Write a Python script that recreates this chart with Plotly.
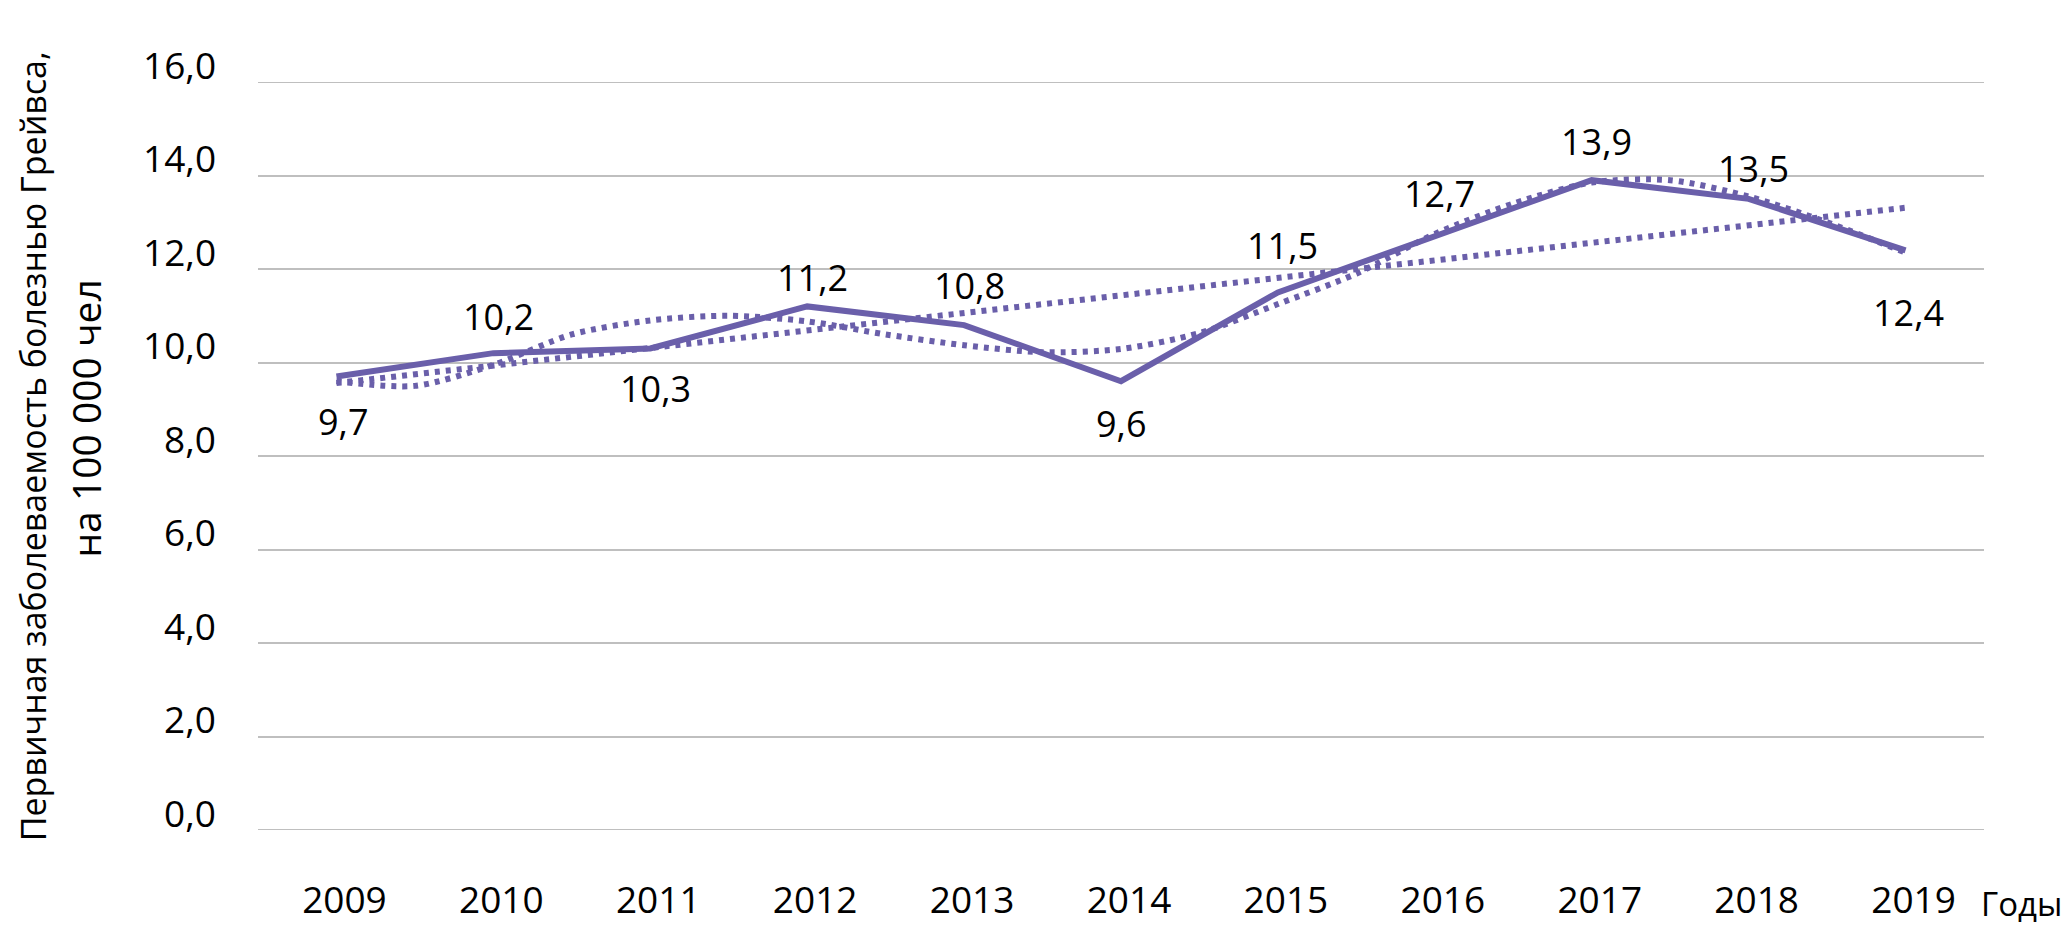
import plotly.graph_objects as go

# ---- data ----
years = [2009, 2010, 2011, 2012, 2013, 2014, 2015, 2016, 2017, 2018, 2019]
incidence = [9.7, 10.2, 10.3, 11.2, 10.8, 9.6, 11.5, 12.7, 13.9, 13.5, 12.4]
value_labels = ["9,7", "10,2", "10,3", "11,2", "10,8", "9,6", "11,5", "12,7", "13,9", "13,5", "12,4"]

# linear trend (read at its two ends)
linear_x = [2009, 2019]
linear_y = [9.56, 13.31]

# polynomial trend (every half year)
poly_x = [2009, 2009.5, 2010, 2010.5, 2011, 2011.5, 2012, 2012.5, 2013, 2013.5, 2014,
          2014.5, 2015, 2015.5, 2016, 2016.5, 2017, 2017.5, 2018, 2018.5, 2019]
poly_y = [9.6, 9.5, 9.95, 10.6, 10.9, 11.0, 10.88, 10.6, 10.37, 10.22, 10.29,
          10.63, 11.25, 11.9, 12.75, 13.4, 13.85, 13.9, 13.55, 13.0, 12.35]

# label placement (pixels above (+) / below (-) the point)
label_shift = [-45, 37, -40, 29, 40, -42, 47, 43, 39, 30, -62]
label_xshift = [7, 5, 5, 5, 5, 0, 5, 5, 5, 5, 3]

y_ticks = [0, 2, 4, 6, 8, 10, 12, 14, 16]
y_tick_text = ["0,0", "2,0", "4,0", "6,0", "8,0", "10,0", "12,0", "14,0", "16,0"]

y_title_1 = "Первичная заболеваемость болезнью Грейвса,"
y_title_2 = "на 100 000 чел"
x_title = "Годы"

COLOR = "#6A5FAA"
GRID = "#BFBFBF"
FONT = "Open Sans"

fig = go.Figure()

fig.add_trace(go.Scatter(x=linear_x, y=linear_y, mode="lines",
                         line=dict(color=COLOR, width=6, dash="5px,6px"),
                         hoverinfo="skip", showlegend=False))
fig.add_trace(go.Scatter(x=poly_x, y=poly_y, mode="lines",
                         line=dict(color=COLOR, width=6, dash="5px,6px", shape="spline", smoothing=0.8),
                         hoverinfo="skip", showlegend=False))
fig.add_trace(go.Scatter(x=years, y=incidence, mode="lines",
                         line=dict(color=COLOR, width=6),
                         showlegend=False))

for x, y, t, s, xs in zip(years, incidence, value_labels, label_shift, label_xshift):
    fig.add_annotation(x=x, y=y, text=t, showarrow=False, xshift=xs, yshift=s,
                       font=dict(family=FONT, size=36, color="#000000"))

# y tick labels (sit slightly above their grid lines, as in the reference)
for v, t in zip(y_ticks, y_tick_text):
    fig.add_annotation(xref="paper", x=0, y=v, text=t, showarrow=False,
                       xanchor="right", yanchor="middle", xshift=-40, yshift=18,
                       font=dict(family=FONT, size=37, color="#000000"))

# edge grid lines (top and bottom of the value range)
for v in (y_ticks[0], y_ticks[-1]):
    fig.add_shape(type="line", xref="paper", x0=0, x1=1, y0=v, y1=v,
                  line=dict(color=GRID, width=2), layer="below")

fig.add_annotation(xref="paper", yref="paper", x=0, xshift=-225, y=0.513, text=y_title_1,
                   showarrow=False, textangle=-90, xanchor="center", yanchor="middle",
                   font=dict(family=FONT, size=34, color="#000000"))
fig.add_annotation(xref="paper", yref="paper", x=0, xshift=-172, y=0.55, text=y_title_2,
                   showarrow=False, textangle=-90, xanchor="center", yanchor="middle",
                   font=dict(family=FONT, size=39, color="#000000"))
fig.add_annotation(xref="paper", yref="paper", x=1.0, y=-0.098, xanchor="right",
                   yanchor="middle", xshift=80, text=x_title, showarrow=False,
                   font=dict(family=FONT, size=33, color="#000000"))

fig.update_layout(
    width=2054, height=918,
    margin=dict(l=250, r=78, t=74, b=96, autoexpand=False),
    paper_bgcolor="white", plot_bgcolor="white",
    font=dict(family=FONT, size=37, color="#000000"),
    xaxis=dict(range=[2008.5, 2019.5], tickvals=years, ticktext=[str(y) for y in years],
               showgrid=False, zeroline=False, showline=False, ticks="",
               ticklabelstandoff=45, ticklabelshift=8, automargin=False, fixedrange=True),
    yaxis=dict(range=[0, 16], tickvals=y_ticks, showticklabels=False,
               showgrid=True, gridcolor=GRID, gridwidth=2, zeroline=False,
               showline=False, ticks="", automargin=False, fixedrange=True),
)

fig.write_html("out.html")
